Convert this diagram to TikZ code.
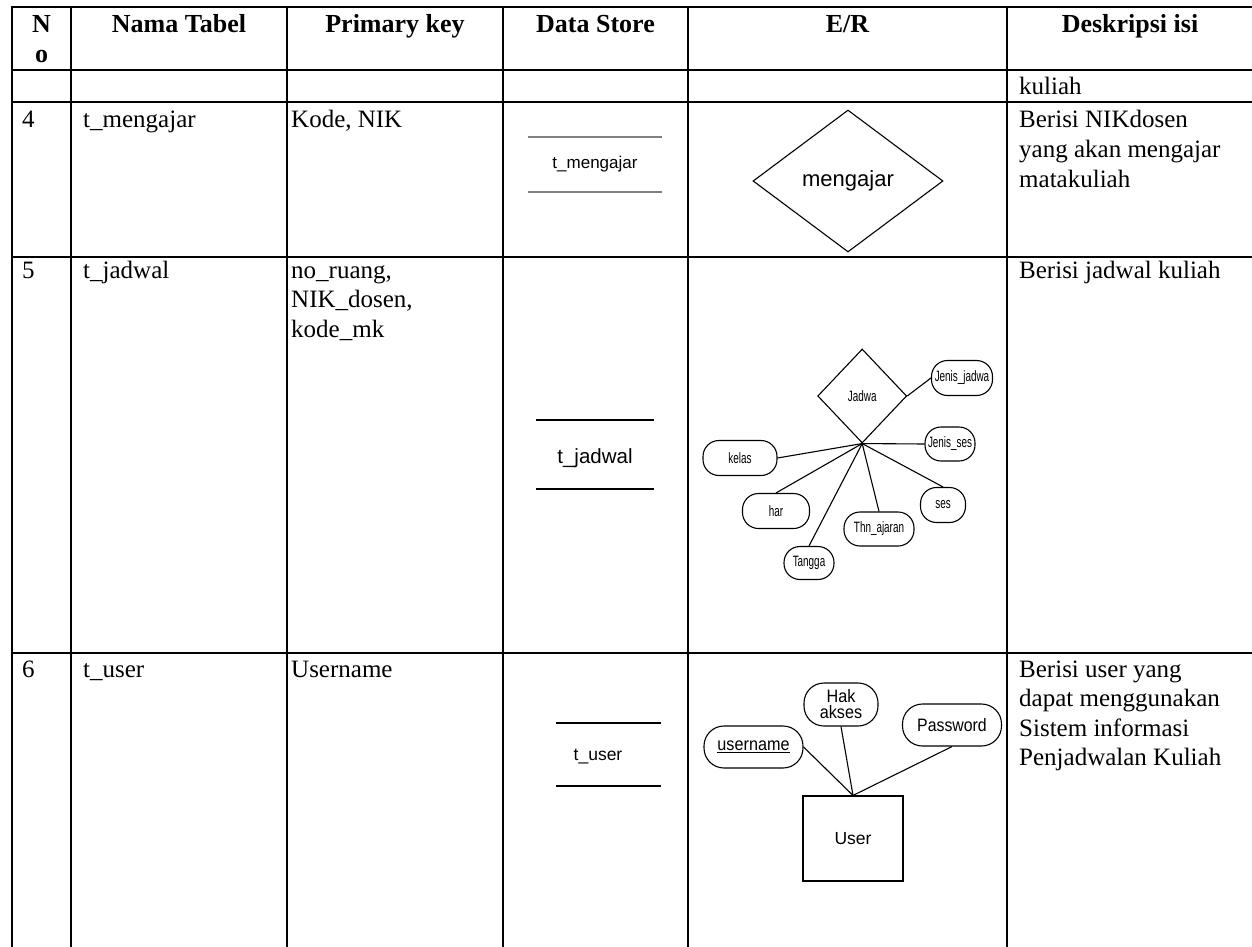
\documentclass[tikz,border=0pt]{standalone}
\usepackage{fontspec}
\setmainfont{Liberation Serif}
\newfontfamily\arialf{Liberation Sans}
\usetikzlibrary{shapes.geometric}
\begin{document}
\begin{tikzpicture}[x=1pt,y=-1pt,
  grid/.style={line width=2.2pt, line cap=rect},
  hd/.style={font=\fontsize{26}{29.5}\selectfont\bfseries, anchor=base, inner sep=0},
  cell/.style={font=\fontsize{25}{29.5}\selectfont, anchor=base west, inner sep=0},
  dsline/.style={line width=1.2pt},
  dslabel/.style={font=\arialf, anchor=base, inner sep=0},
  erline/.style={line width=1.1pt},
  rel/.style={diamond, draw, line width=1.1pt, inner sep=0, aspect=1},
  attr/.style={draw, line width=1.1pt, rounded corners=16pt, inner sep=0, font=\arialf\fontsize{15}{16}\selectfont},
  uattr/.style={draw, line width=1.1pt, rounded corners=20pt, inner sep=0, align=center, font=\arialf\fontsize{18}{19}\selectfont},
]
\useasboundingbox (0,0) rectangle (1252,947);
\fill[white] (0,0) rectangle (1252,947);

% ---------- table grid ----------
\foreach \yy in {7,70,102,257,653}{\draw[grid] (12,\yy) -- (1252,\yy);}
\foreach \xx in {12,71,287,503,688,1007}{\draw[grid] (\xx,7) -- (\xx,947);}

% ---------- header ----------
\node[hd] (hN) at (41.5,33) {N};
\node[hd] (hO) at (41.5,63) {o};
\node[hd] (hNama) at (179,33) {Nama Tabel};
\node[hd] (hPK) at (395,33) {Primary key};
\node[hd] (hDS) at (595.5,33) {Data Store};
\node[hd] (hER) at (847.5,33) {E/R};
\node[hd] (hDesk) at (1130,33) {Deskripsi isi};

% ---------- continuation row ----------
\node[cell] (d0) at (1019,95) {kuliah};

% ---------- row 4 ----------
\node[cell] (n4) at (22,128) {4};
\node[cell] (t4) at (83,128) {t\_mengajar};
\node[cell] (p4) at (291,128) {Kode, NIK};
\node[cell] (d4a) at (1019,128) {Berisi NIKdosen};
\node[cell] (d4b) at (1019,157.5) {yang akan mengajar};
\node[cell] (d4c) at (1019,187) {matakuliah};

\coordinate (dm1) at (528,137); \coordinate (dm2) at (662,137);
\coordinate (dm3) at (528,192); \coordinate (dm4) at (662,192);
\draw[dsline, draw=black!50] (dm1) -- (dm2);
\draw[dsline, draw=black!50] (dm3) -- (dm4);
\node[dslabel, font=\arialf\fontsize{17}{18}\selectfont] (dsm) at (595,168) {t\_mengajar};

\node[rel, minimum width=190, minimum height=142, font=\arialf\fontsize{22}{24}\selectfont] (mg) at (848,181) {mengajar};

% ---------- row 5 ----------
\node[cell] (n5) at (22,278) {5};
\node[cell] (t5) at (83,278) {t\_jadwal};
\node[cell] (p5a) at (291,278) {no\_ruang,};
\node[cell] (p5b) at (291,307.5) {NIK\_dosen,};
\node[cell] (p5c) at (291,337) {kode\_mk};
\node[cell] (d5) at (1019,278) {Berisi jadwal kuliah};

\coordinate (dj1) at (536,420); \coordinate (dj2) at (654,420);
\coordinate (dj3) at (536,489); \coordinate (dj4) at (654,489);
\draw[dsline] (dj1) -- (dj2);
\draw[dsline] (dj3) -- (dj4);
\node[dslabel, font=\arialf\fontsize{20.5}{22}\selectfont] (dsj) at (595,463) {t\_jadwal};

\node[rel, minimum width=89, minimum height=94, font=\arialf\fontsize{15}{16}\selectfont] (jd) at (862.2,396) {\scalebox{0.66}[1]{Jadwa}};
\node[attr, minimum width=61, minimum height=35] (jj) at (962,378) {\scalebox{0.66}[1]{Jenis\_jadwa}};
\node[attr, minimum width=50, minimum height=34] (js) at (950,444) {\scalebox{0.66}[1]{Jenis\_ses}};
\node[attr, minimum width=74, minimum height=35] (kl) at (740,458) {\scalebox{0.66}[1]{kelas}};
\node[attr, minimum width=67, minimum height=35] (hr) at (776,511) {\scalebox{0.66}[1]{har}};
\node[attr, minimum width=70, minimum height=34] (th) at (879,529) {\scalebox{0.66}[1]{Thn\_ajaran}};
\node[attr, minimum width=45, minimum height=35] (ss) at (943,505) {\scalebox{0.66}[1]{ses}};
\node[attr, minimum width=50, minimum height=33] (tg) at (809,563) {\scalebox{0.66}[1]{Tangga}};

\draw[erline] (jd.east) -- (jj.west);
\draw[erline] (jd.south) -- (js.west);
\draw[erline] (jd.south) -- (kl.east);
\draw[erline] (jd.south) -- (hr.north);
\draw[erline] (jd.south) -- (tg.north);
\draw[erline] (jd.south) -- (th.north);
\draw[erline] (jd.south) -- (ss.north);

% ---------- row 6 ----------
\node[cell] (n6) at (22,677) {6};
\node[cell] (t6) at (83,677) {t\_user};
\node[cell] (p6) at (291,677) {Username};
\node[cell] (d6a) at (1019,677) {Berisi user yang};
\node[cell] (d6b) at (1019,706.5) {dapat menggunakan};
\node[cell] (d6c) at (1019,736) {Sistem informasi};
\node[cell] (d6d) at (1019,765.5) {Penjadwalan Kuliah};

\coordinate (du1) at (556,723); \coordinate (du2) at (661,723);
\coordinate (du3) at (556,786); \coordinate (du4) at (661,786);
\draw[dsline] (du1) -- (du2);
\draw[dsline] (du3) -- (du4);
\node[dslabel, font=\arialf\fontsize{17.5}{19}\selectfont] (dsu) at (598,760) {t\_user};

\node[uattr, minimum width=74, minimum height=43] (hk) at (841,704.5) {\scalebox{0.9}[1]{Hak}\\[-3pt]\scalebox{0.9}[1]{akses}};
\node[uattr, minimum width=99, minimum height=42] (pw) at (952,725) {\scalebox{0.88}[1]{Password}};
\node[uattr, minimum width=99, minimum height=42] (un) at (753.5,747) {\scalebox{0.9}[1]{\underline{username}}};
\node[draw, line width=1.1pt, minimum width=100, minimum height=85, inner sep=0, font=\arialf\fontsize{17.5}{19}\selectfont] (us) at (853,838.5) {User};

\draw[erline] (un.east) -- (us.north);
\draw[erline] (hk.south) -- (us.north);
\draw[erline] (pw.south) -- (us.north);
\end{tikzpicture}
\end{document}
